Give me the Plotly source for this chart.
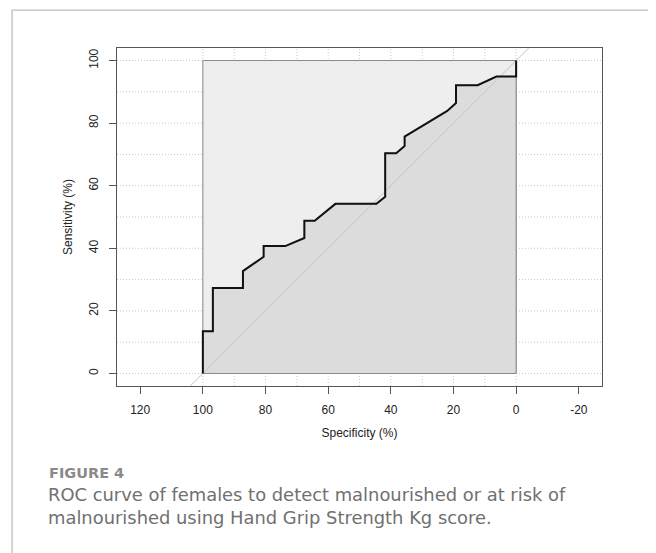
import plotly.graph_objects as go

# ROC curve data (specificity %, sensitivity %)
specificity = [100, 100, 96.8, 96.8, 87.2, 87.2, 80.6, 80.6, 73.7, 67.6, 67.6, 64.3, 57.7,
               44.6, 41.8, 41.8, 38.3, 35.6, 35.6, 22.0, 19.2, 19.2, 12.3, 6.3, 0, 0]
sensitivity = [0, 13.5, 13.5, 27.3, 27.3, 32.7, 37.3, 40.7, 40.7, 43.3, 48.8, 48.8, 54.2,
               54.2, 56.5, 70.4, 70.4, 72.7, 75.7, 83.9, 86.4, 92.1, 92.1, 94.9, 94.9, 100]

x_ticks = [120, 100, 80, 60, 40, 20, 0, -20]
y_ticks = [0, 20, 40, 60, 80, 100]
grid_vals = [0, 10, 20, 30, 40, 50, 60, 70, 80, 90, 100]

x_range = [127.4, -27.4]
y_range = [-4, 104]

OFF = 8  # browser body margin
W, H = 656 - OFF, 553 - OFF
# plot area in page pixels
L, R, T, B = 117.3, 601.7, 48.3, 385.7
pw, ph = R - L, B - T

def px(xp):
    return (xp - L) / pw

def py(yp):
    return (B - yp) / ph

fig = go.Figure()

# AUC polygon (area under the curve)
fig.add_trace(go.Scatter(
    x=specificity + [0, 100], y=sensitivity + [0, 0],
    fill="toself", fillcolor="#dcdcdc", mode="lines",
    line=dict(color="#8a8a8a", width=1), hoverinfo="skip", showlegend=False))

# identity line
fig.add_trace(go.Scatter(
    x=[x_range[0], x_range[1]], y=[100 - x_range[0], 100 - x_range[1]],
    mode="lines", line=dict(color="#c4c4c4", width=1), hoverinfo="skip", showlegend=False))

# ROC curve
fig.add_trace(go.Scatter(
    x=specificity, y=sensitivity, mode="lines",
    line=dict(color="#111111", width=2), showlegend=False))

grid_line = dict(color="#c8c8c8", width=1, dash="1px,2px")
shapes = []
for g in grid_vals:
    shapes.append(dict(type="line", xref="x", yref="paper", x0=g, x1=g, y0=0, y1=1,
                       line=grid_line, layer="below"))
    shapes.append(dict(type="line", xref="paper", yref="y", x0=0, x1=1, y0=g, y1=g,
                       line=grid_line, layer="below"))
# max AUC polygon
shapes.append(dict(type="rect", xref="x", yref="y", x0=100, x1=0, y0=0, y1=100,
                   fillcolor="#eeeeee", line=dict(color="#8a8a8a", width=1), layer="below"))
# outer page border
shapes.append(dict(type="rect", xref="paper", yref="paper",
                   x0=px(12.5), x1=px(655.3), y0=py(10.5), y1=py(570),
                   line=dict(color="#bdbdbd", width=1.3), fillcolor="rgba(0,0,0,0)", layer="below"))

axis_font = dict(family="Liberation Sans, Arial, sans-serif", size=12, color="#222222")
cap_font = "DejaVu Sans, Open Sans, sans-serif"

fig.update_layout(
    width=W, height=H,
    margin=dict(l=L - OFF, r=656 - R, t=T - OFF, b=553 - B, pad=0),
    paper_bgcolor="white", plot_bgcolor="white",
    shapes=shapes,
    xaxis=dict(range=x_range, tickmode="array", tickvals=x_ticks,
               ticktext=[str(v) for v in x_ticks],
               showgrid=False, zeroline=False, showline=True, mirror=True,
               linecolor="#555555", linewidth=1, ticks="outside", ticklen=7,
               tickcolor="#555555", tickfont=axis_font, ticklabelstandoff=6,
               title=dict(text="Specificity (%)", font=axis_font, standoff=12)),
    yaxis=dict(range=y_range, tickmode="array", tickvals=y_ticks,
               ticktext=[str(v) for v in y_ticks],
               showgrid=False, zeroline=False, showline=True, mirror=True,
               linecolor="#555555", linewidth=1, ticks="outside", ticklen=7,
               tickcolor="#555555", tickfont=axis_font, tickangle=-90, ticklabelstandoff=6,
               title=dict(text="Sensitivity (%)", font=axis_font, standoff=12)),
    annotations=[
        dict(text="<b>FIGURE 4</b>", xref="paper", yref="paper", x=px(47.5), y=py(473),
             xanchor="left", yanchor="middle", showarrow=False,
             font=dict(family=cap_font, size=14.5, color="#8a8a8a")),
        dict(text="ROC curve of females to detect malnourished or at risk of",
             xref="paper", yref="paper", x=px(46), y=py(494),
             xanchor="left", yanchor="middle", showarrow=False,
             font=dict(family=cap_font, size=17.9, color="#707070")),
        dict(text="malnourished using Hand Grip Strength Kg score.",
             xref="paper", yref="paper", x=px(46), y=py(517),
             xanchor="left", yanchor="middle", showarrow=False,
             font=dict(family=cap_font, size=17.9, color="#707070")),
    ],
)

fig.write_html("out.html")
